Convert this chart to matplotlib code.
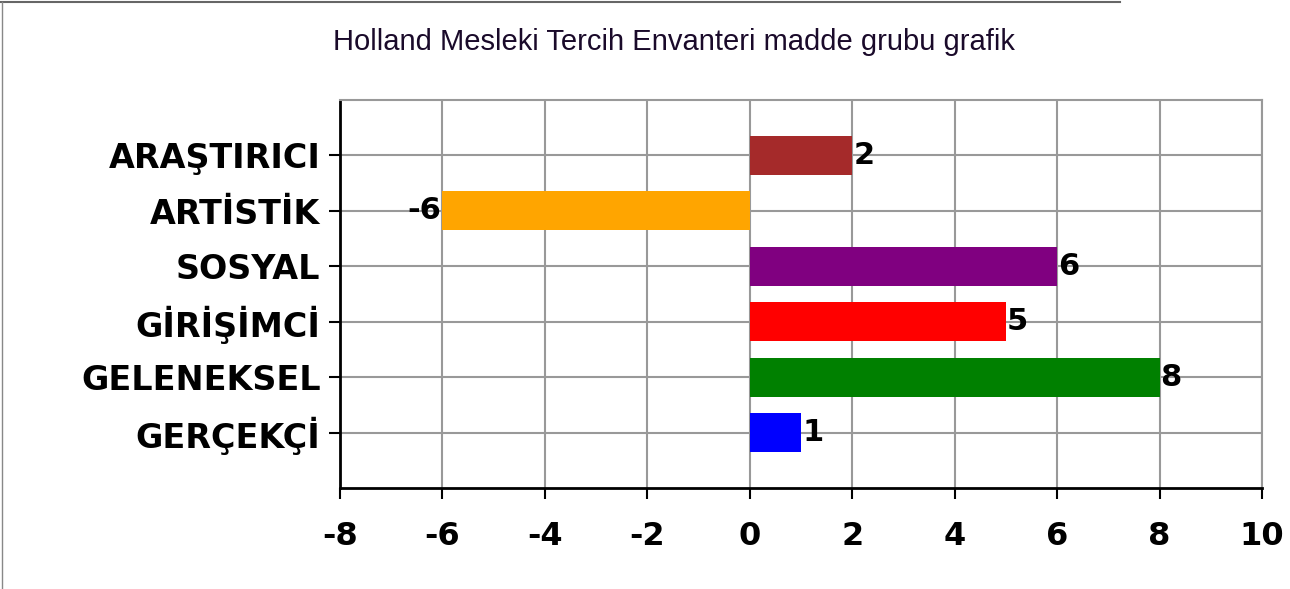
import matplotlib.pyplot as plt
from matplotlib.lines import Line2D

# veriler
categories = ["GERÇEKÇİ", "GELENEKSEL", "GİRİŞİMCİ", "SOSYAL", "ARTİSTİK", "ARAŞTIRICI"]
values = [1, 8, 5, 6, -6, 2]
colors = ["#0000FF", "#008000", "#FF0000", "#800080", "#FFA500", "#A52A2A"]
x_ticks = [-8, -6, -4, -2, 0, 2, 4, 6, 8, 10]
title = "Holland Mesleki Tercih Envanteri madde grubu grafik"

fig = plt.figure(figsize=(12.9, 5.89), dpi=100, facecolor="white")
ax = fig.add_axes([340 / 1290, 1 - 488 / 589, 922 / 1290, 388 / 589])

pos = list(range(len(categories)))
ax.barh(pos, values, height=0.7, color=colors, zorder=3)

for p, v in zip(pos, values):
    if v >= 0:
        ax.text(v + 0.02, p, str(v), va="center", ha="left",
                fontsize=22, fontweight="bold", color="black", zorder=4)
    else:
        ax.text(v - 0.02, p, str(v), va="center", ha="right",
                fontsize=22, fontweight="bold", color="black", zorder=4)

ax.set_xlim(-8, 10)
ax.set_ylim(-1, 6)
ax.set_xticks(x_ticks)
ax.set_xticklabels([str(t) for t in x_ticks])
ax.set_yticks(pos)
ax.set_yticklabels(categories)

ax.grid(True, color="#999999", linewidth=1.5, zorder=0)
ax.set_axisbelow(True)

for lab in ax.get_xticklabels():
    lab.set_fontsize(23)
    lab.set_fontweight("bold")
for lab in ax.get_yticklabels():
    lab.set_fontsize(24)
    lab.set_fontweight("bold")
ax.tick_params(axis="x", direction="out", length=8, width=1.5, pad=16, colors="black")
ax.tick_params(axis="y", direction="out", length=8, width=1.5, pad=6, colors="black")

ax.spines["left"].set_color("black")
ax.spines["bottom"].set_color("black")
ax.spines["left"].set_linewidth(2)
ax.spines["bottom"].set_linewidth(2)
ax.spines["top"].set_color("#999999")
ax.spines["right"].set_color("#999999")
ax.spines["top"].set_linewidth(1.5)
ax.spines["right"].set_linewidth(1.5)

fig.text(674 / 1290, 1 - 42 / 589, title, ha="center", va="center",
         fontsize=21, family="Liberation Sans", color="#1a0a2a")

# çerçeve parçaları
fig.add_artist(Line2D([0, 1120 / 1290], [1 - 2 / 589, 1 - 2 / 589],
                      color="#666666", linewidth=1.5))
fig.add_artist(Line2D([2 / 1290, 2 / 1290], [0, 1 - 2 / 589],
                      color="#888888", linewidth=1.0))

plt.savefig("out.png", dpi=100, facecolor="white")
plt.close()
